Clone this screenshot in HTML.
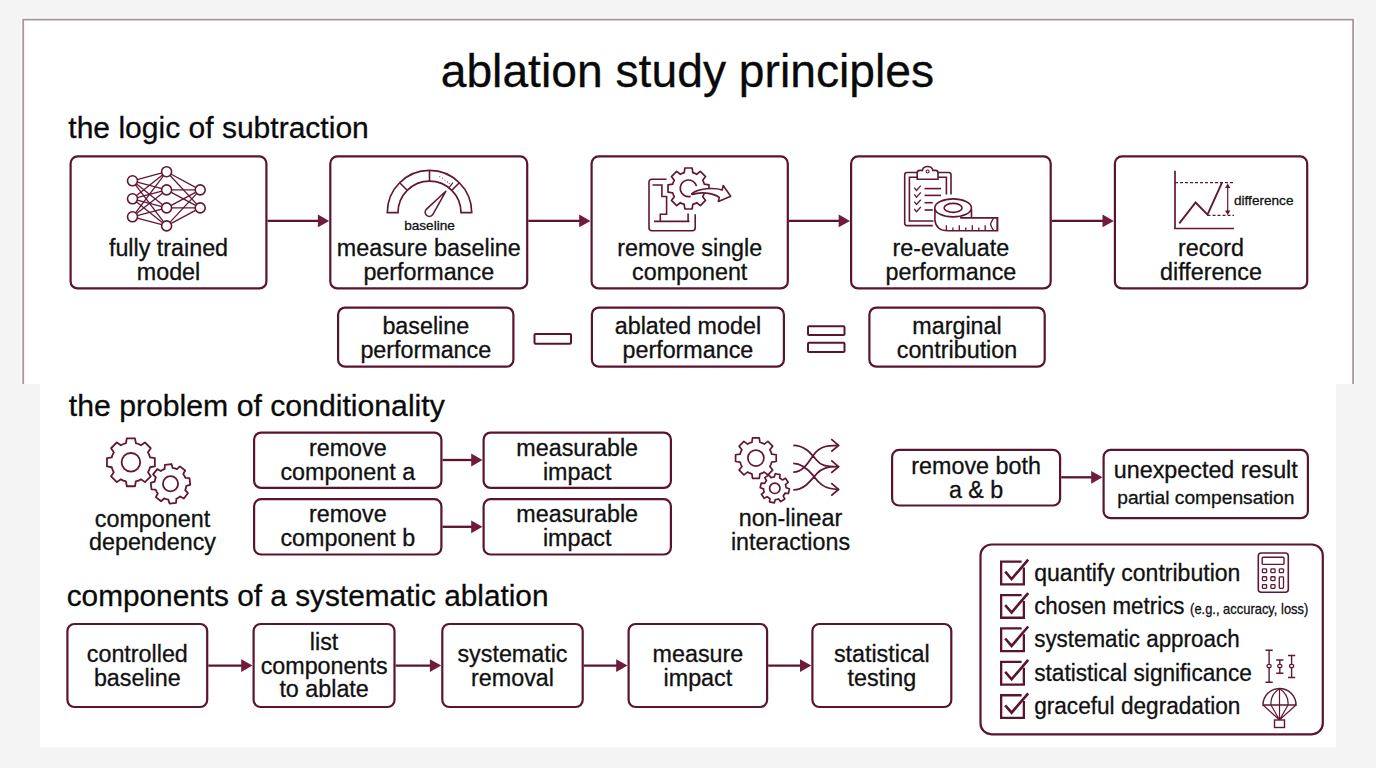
<!DOCTYPE html>
<html><head><meta charset="utf-8"><style>
html,body{margin:0;padding:0;width:1376px;height:768px;overflow:hidden;background:#f4f4f4}
svg{display:block}
text{font-family:"Liberation Sans",sans-serif;stroke:#111;stroke-width:0.3px}
</style></head><body>
<svg width="1376" height="768" viewBox="0 0 1376 768">
<rect x="0" y="0" width="1376" height="768" fill="#f4f4f4"/>
<path d="M21.4,384 L21.4,17.9 L1354.9,17.9 L1354.9,384" fill="none" stroke="#fbfbfb" stroke-width="1.2"/>
<path d="M23.2,384 L23.2,19.7 L1353.1,19.7 L1353.1,384" fill="#fff" stroke="#a8999f" stroke-width="1.8"/>
<rect x="40" y="384" width="1296" height="363" fill="#fff"/>
<text x="440.7" y="87.0" font-size="46" text-anchor="start" fill="#0a0a0a" textLength="493.5" lengthAdjust="spacingAndGlyphs">ablation study principles</text>
<text x="68.3" y="138.0" font-size="30" text-anchor="start" fill="#0a0a0a" textLength="300.5" lengthAdjust="spacingAndGlyphs">the logic of subtraction</text>
<text x="68.8" y="416.0" font-size="30" text-anchor="start" fill="#0a0a0a" textLength="376" lengthAdjust="spacingAndGlyphs">the problem of conditionality</text>
<text x="66.7" y="606.1" font-size="30" text-anchor="start" fill="#0a0a0a" textLength="481.8" lengthAdjust="spacingAndGlyphs">components of a systematic ablation</text>
<rect x="70.6" y="156.4" width="195.8" height="132.0" rx="7" fill="#fff" stroke="#5a1431" stroke-width="2.2"/>
<text x="168.5" y="256.0" font-size="23.3" text-anchor="middle" fill="#111">fully trained</text>
<text x="168.5" y="280.0" font-size="23.3" text-anchor="middle" fill="#111">model</text>
<rect x="330.3" y="156.4" width="196.9" height="132.0" rx="7" fill="#fff" stroke="#5a1431" stroke-width="2.2"/>
<text x="428.8" y="256.0" font-size="23.3" text-anchor="middle" fill="#111">measure baseline</text>
<text x="428.8" y="280.0" font-size="23.3" text-anchor="middle" fill="#111">performance</text>
<rect x="591.6" y="156.4" width="196.2" height="132.0" rx="7" fill="#fff" stroke="#5a1431" stroke-width="2.2"/>
<text x="689.7" y="256.0" font-size="23.3" text-anchor="middle" fill="#111">remove single</text>
<text x="689.7" y="280.0" font-size="23.3" text-anchor="middle" fill="#111">component</text>
<rect x="851.1" y="156.4" width="199.6" height="132.0" rx="7" fill="#fff" stroke="#5a1431" stroke-width="2.2"/>
<text x="950.9" y="256.0" font-size="23.3" text-anchor="middle" fill="#111">re-evaluate</text>
<text x="950.9" y="280.0" font-size="23.3" text-anchor="middle" fill="#111">performance</text>
<rect x="1114.9" y="156.4" width="192.3" height="132.0" rx="7" fill="#fff" stroke="#5a1431" stroke-width="2.2"/>
<text x="1211.0" y="256.0" font-size="23.3" text-anchor="middle" fill="#111">record</text>
<text x="1211.0" y="280.0" font-size="23.3" text-anchor="middle" fill="#111">difference</text>
<line x1="267.5" y1="220.9" x2="318.9" y2="220.9" stroke="#5a1431" stroke-width="2.3"/>
<path d="M317.9,214.5 L329.2,220.9 L317.9,227.3 Z" fill="#701a3e"/>
<line x1="528.3" y1="220.9" x2="580.2" y2="220.9" stroke="#5a1431" stroke-width="2.3"/>
<path d="M579.2,214.5 L590.5,220.9 L579.2,227.3 Z" fill="#701a3e"/>
<line x1="788.9" y1="220.9" x2="839.7" y2="220.9" stroke="#5a1431" stroke-width="2.3"/>
<path d="M838.7,214.5 L850,220.9 L838.7,227.3 Z" fill="#701a3e"/>
<line x1="1051.8" y1="220.9" x2="1103.5" y2="220.9" stroke="#5a1431" stroke-width="2.3"/>
<path d="M1102.5,214.5 L1113.8,220.9 L1102.5,227.3 Z" fill="#701a3e"/>
<line x1="132.5" y1="180.8" x2="166.6" y2="171.7" stroke="#621636" stroke-width="1.3"/>
<line x1="132.5" y1="180.8" x2="166.6" y2="189.9" stroke="#621636" stroke-width="1.3"/>
<line x1="132.5" y1="180.8" x2="166.6" y2="207.9" stroke="#621636" stroke-width="1.3"/>
<line x1="132.5" y1="180.8" x2="166.6" y2="225.9" stroke="#621636" stroke-width="1.3"/>
<line x1="132.5" y1="198.8" x2="166.6" y2="171.7" stroke="#621636" stroke-width="1.3"/>
<line x1="132.5" y1="198.8" x2="166.6" y2="189.9" stroke="#621636" stroke-width="1.3"/>
<line x1="132.5" y1="198.8" x2="166.6" y2="207.9" stroke="#621636" stroke-width="1.3"/>
<line x1="132.5" y1="198.8" x2="166.6" y2="225.9" stroke="#621636" stroke-width="1.3"/>
<line x1="132.5" y1="216.8" x2="166.6" y2="171.7" stroke="#621636" stroke-width="1.3"/>
<line x1="132.5" y1="216.8" x2="166.6" y2="189.9" stroke="#621636" stroke-width="1.3"/>
<line x1="132.5" y1="216.8" x2="166.6" y2="207.9" stroke="#621636" stroke-width="1.3"/>
<line x1="132.5" y1="216.8" x2="166.6" y2="225.9" stroke="#621636" stroke-width="1.3"/>
<line x1="166.6" y1="171.7" x2="200.2" y2="189.9" stroke="#621636" stroke-width="1.3"/>
<line x1="166.6" y1="171.7" x2="200.2" y2="207.9" stroke="#621636" stroke-width="1.3"/>
<line x1="166.6" y1="189.9" x2="200.2" y2="189.9" stroke="#621636" stroke-width="1.3"/>
<line x1="166.6" y1="189.9" x2="200.2" y2="207.9" stroke="#621636" stroke-width="1.3"/>
<line x1="166.6" y1="207.9" x2="200.2" y2="189.9" stroke="#621636" stroke-width="1.3"/>
<line x1="166.6" y1="207.9" x2="200.2" y2="207.9" stroke="#621636" stroke-width="1.3"/>
<line x1="166.6" y1="225.9" x2="200.2" y2="189.9" stroke="#621636" stroke-width="1.3"/>
<line x1="166.6" y1="225.9" x2="200.2" y2="207.9" stroke="#621636" stroke-width="1.3"/>
<circle cx="132.5" cy="180.8" r="5" fill="#fff" stroke="#621636" stroke-width="1.6"/>
<circle cx="132.5" cy="198.8" r="5" fill="#fff" stroke="#621636" stroke-width="1.6"/>
<circle cx="132.5" cy="216.8" r="5" fill="#fff" stroke="#621636" stroke-width="1.6"/>
<circle cx="166.6" cy="171.7" r="5" fill="#fff" stroke="#621636" stroke-width="1.6"/>
<circle cx="166.6" cy="189.9" r="5" fill="#fff" stroke="#621636" stroke-width="1.6"/>
<circle cx="166.6" cy="207.9" r="5" fill="#fff" stroke="#621636" stroke-width="1.6"/>
<circle cx="166.6" cy="225.9" r="5" fill="#fff" stroke="#621636" stroke-width="1.6"/>
<circle cx="200.2" cy="189.9" r="5" fill="#fff" stroke="#621636" stroke-width="1.6"/>
<circle cx="200.2" cy="207.9" r="5" fill="#fff" stroke="#621636" stroke-width="1.6"/>
<path d="M387.3,212.6 A42.2,42.2 0 0 1 471.7,212.6 L461.0,212.6 A31.5,31.5 0 0 0 398.0,212.6 Z" fill="#fff" stroke="#621636" stroke-width="1.7"/>
<line x1="451.8" y1="190.3" x2="459.3" y2="182.8" stroke="#621636" stroke-width="1.6"/>
<line x1="429.5" y1="181.1" x2="429.5" y2="170.4" stroke="#621636" stroke-width="1.6"/>
<line x1="407.2" y1="190.3" x2="399.7" y2="182.8" stroke="#621636" stroke-width="1.6"/>
<line x1="448.9" y1="187.8" x2="452.9" y2="182.7" stroke="#621636" stroke-width="1.2"/>
<circle cx="439.8" cy="176.6" r="0.55" fill="#621636"/>
<circle cx="442.4" cy="178.1" r="0.55" fill="#621636"/>
<circle cx="445.0" cy="180.0" r="0.55" fill="#621636"/>
<circle cx="447.6" cy="181.9" r="0.55" fill="#621636"/>
<circle cx="449.3" cy="183.3" r="0.55" fill="#621636"/>
<path d="M426.00,209.60 L445.8,191.3 L432.60,214.80 A4.2,4.2 0 1 1 426.00,209.60 Z" fill="#fff" stroke="#621636" stroke-width="1.5" stroke-linejoin="round"/>
<text x="429.5" y="229.8" font-size="13.6" text-anchor="middle" fill="#111">baseline</text>
<path d="M666.6,179.3 L652,179.3 Q649,179.3 649,182.3 L649,227.8 Q649,230.8 652,230.8 L692.2,230.8 Q695.2,230.8 695.2,227.8 L695.2,214.2" fill="none" stroke="#621636" stroke-width="1.6"/>
<path d="M652.5,185 L661.9,185 L661.9,196.5 L666.6,196.5 L666.6,214.2 L660.3,214.2 L660.3,221.4 M654,221.4 L689.5,221.4 M688.1,213.6 L688.1,221.4" fill="none" stroke="#621636" stroke-width="1.6"/>
<path d="M682.22,173.35 L684.20,172.67 L684.84,168.02 L692.16,168.02 L692.80,172.67 L694.78,173.35 L696.65,174.27 L700.39,171.44 L705.56,176.61 L702.73,180.35 L703.65,182.22 L704.33,184.20 L708.98,184.84 L708.98,192.16 L704.33,192.80 L703.65,194.78 L702.73,196.65 L705.56,200.39 L700.39,205.56 L696.65,202.73 L694.78,203.65 L692.80,204.33 L692.16,208.98 L684.84,208.98 L684.20,204.33 L682.22,203.65 L680.35,202.73 L676.61,205.56 L671.44,200.39 L674.27,196.65 L673.35,194.78 L672.67,192.80 L668.02,192.16 L668.02,184.84 L672.67,184.20 L673.35,182.22 L674.27,180.35 L671.44,176.61 L676.61,171.44 L680.35,174.27 Z" fill="#fff" stroke="#621636" stroke-width="1.7" stroke-linejoin="round"/>
<path d="M690.65,196.32 A8.3,8.3 0 1 1 696.52,186.15" fill="none" stroke="#621636" stroke-width="1.7"/>
<path d="M691.62,193.90 C698.46,188.04 714.08,187.39 722.22,189.99 L723.20,185.44 L730.68,196.18 L718.32,201.39 L719.29,197.48 C712.78,192.60 699.76,191.62 692.60,194.55 Z" fill="#fff" stroke="#621636" stroke-width="1.6" stroke-linejoin="round"/>
<path d="M932.8,225.6 L907,225.6 Q904.7,225.6 904.7,223.3 L904.7,174.8 Q904.7,172.5 907,172.5 L917.2,172.5 M938,172.5 L948.7,172.5 Q951,172.5 951,174.8 L951,194.4" fill="none" stroke="#621636" stroke-width="1.6"/>
<path d="M933.5,221 L909.4,221 L909.4,177.2 L917.2,177.2 M938,177.2 L946.4,177.2 L946.4,194.4" fill="none" stroke="#621636" stroke-width="1.6"/>
<path d="M917.2,179.3 L917.2,173 Q917.2,170.4 920,170.4 L922.4,170.4 Q923,166.5 927.6,166.5 Q932.2,166.5 932.8,170.4 L935.5,170.4 Q938,170.4 938,173 L938,179.3 Z" fill="#fff" stroke="#621636" stroke-width="1.6"/>
<circle cx="927.6" cy="171.5" r="1.5" fill="none" stroke="#621636" stroke-width="1.1"/>
<path d="M914.3,187.6 L916.5,190.4 L920.8,185.6" fill="none" stroke="#621636" stroke-width="1.3"/>
<line x1="924.5" y1="188.6" x2="941" y2="188.6" stroke="#621636" stroke-width="1.6"/>
<path d="M914.3,194.4 L916.5,197.20000000000002 L920.8,192.4" fill="none" stroke="#621636" stroke-width="1.3"/>
<line x1="924.5" y1="195.4" x2="941" y2="195.4" stroke="#621636" stroke-width="1.6"/>
<path d="M914.3,201.7 L916.5,204.5 L920.8,199.7" fill="none" stroke="#621636" stroke-width="1.3"/>
<line x1="924.5" y1="202.7" x2="932.8" y2="202.7" stroke="#621636" stroke-width="1.6"/>
<path d="M914.3,209 L916.5,211.8 L920.8,207" fill="none" stroke="#621636" stroke-width="1.3"/>
<line x1="924.5" y1="210" x2="932.8" y2="210" stroke="#621636" stroke-width="1.6"/>
<path d="M934.9,207.9 L934.9,220 Q936,230.8 948,230.8 L997.4,230.8 L997.4,217.7 L960,217.7" fill="#fff" stroke="#621636" stroke-width="1.6"/>
<ellipse cx="953.1" cy="207.9" rx="18.3" ry="9" fill="#fff" stroke="#621636" stroke-width="1.6"/>
<path d="M961,217.7 L997.4,217.7 L997.4,230.8 M971.5,209 L971.5,217.7" fill="none" stroke="#621636" stroke-width="1.6"/>
<ellipse cx="953.1" cy="207.9" rx="9" ry="4.5" fill="none" stroke="#621636" stroke-width="1.6"/>
<path d="M993.6,218.2 Q991,222 990.6,224.2 Q991,227 993.6,230.5" fill="none" stroke="#621636" stroke-width="1.3"/>
<line x1="946.4" y1="225.3" x2="946.4" y2="230.8" stroke="#621636" stroke-width="1.3"/>
<line x1="952.9" y1="227.60000000000002" x2="952.9" y2="230.8" stroke="#621636" stroke-width="1.3"/>
<line x1="959.3" y1="225.3" x2="959.3" y2="230.8" stroke="#621636" stroke-width="1.3"/>
<line x1="965.8" y1="227.60000000000002" x2="965.8" y2="230.8" stroke="#621636" stroke-width="1.3"/>
<line x1="972.3" y1="225.3" x2="972.3" y2="230.8" stroke="#621636" stroke-width="1.3"/>
<line x1="978.8" y1="227.60000000000002" x2="978.8" y2="230.8" stroke="#621636" stroke-width="1.3"/>
<line x1="985.2" y1="225.3" x2="985.2" y2="230.8" stroke="#621636" stroke-width="1.3"/>
<path d="M1175,170.8 L1175,228.5 L1234,228.5" fill="none" stroke="#621636" stroke-width="1.7"/>
<line x1="1175" y1="182.7" x2="1234" y2="182.7" stroke="#621636" stroke-width="1.2" stroke-dasharray="3,2"/>
<line x1="1207.5" y1="215.4" x2="1234" y2="215.4" stroke="#621636" stroke-width="1.2" stroke-dasharray="3,2"/>
<path d="M1179.3,223.3 L1195.6,202.5 L1207.5,214.6 L1222,182.7" fill="none" stroke="#621636" stroke-width="1.9"/>
<line x1="1227.7" y1="185" x2="1227.7" y2="213" stroke="#621636" stroke-width="1.2"/>
<path d="M1225,188 L1227.7,183.5 L1230.4,188 Z M1225,210.5 L1227.7,215 L1230.4,210.5 Z" fill="#621636"/>
<text x="1234.0" y="204.6" font-size="13.6" text-anchor="start" fill="#111">difference</text>
<rect x="338.1" y="307.6" width="175.3" height="59.1" rx="7" fill="#fff" stroke="#5a1431" stroke-width="2.2"/>
<text x="425.8" y="334.0" font-size="23.3" text-anchor="middle" fill="#111">baseline</text>
<text x="425.8" y="358.0" font-size="23.3" text-anchor="middle" fill="#111">performance</text>
<rect x="591.9" y="307.6" width="192.0" height="59.1" rx="7" fill="#fff" stroke="#5a1431" stroke-width="2.2"/>
<text x="687.9" y="334.0" font-size="23.3" text-anchor="middle" fill="#111">ablated model</text>
<text x="687.9" y="358.0" font-size="23.3" text-anchor="middle" fill="#111">performance</text>
<rect x="869.4" y="307.6" width="175.3" height="59.1" rx="7" fill="#fff" stroke="#5a1431" stroke-width="2.2"/>
<text x="957.0" y="334.0" font-size="23.3" text-anchor="middle" fill="#111">marginal</text>
<text x="957.0" y="358.0" font-size="23.3" text-anchor="middle" fill="#111">contribution</text>
<rect x="534.5" y="334" width="36.5" height="9.8" rx="1" fill="none" stroke="#5a1431" stroke-width="2"/>
<rect x="808" y="326.3" width="36.5" height="8.6" rx="1" fill="none" stroke="#5a1431" stroke-width="2"/>
<rect x="808" y="342.8" width="36.5" height="9.2" rx="1" fill="none" stroke="#5a1431" stroke-width="2"/>
<path d="M123.32,444.01 L125.94,443.13 L126.82,438.35 L134.98,438.35 L135.86,443.13 L138.48,444.01 L140.95,445.24 L144.95,442.47 L150.73,448.25 L147.96,452.25 L149.19,454.72 L150.07,457.34 L154.85,458.22 L154.85,466.38 L150.07,467.26 L149.19,469.88 L147.96,472.35 L150.73,476.35 L144.95,482.13 L140.95,479.36 L138.48,480.59 L135.86,481.47 L134.98,486.25 L126.82,486.25 L125.94,481.47 L123.32,480.59 L120.85,479.36 L116.85,482.13 L111.07,476.35 L113.84,472.35 L112.61,469.88 L111.73,467.26 L106.95,466.38 L106.95,458.22 L111.73,457.34 L112.61,454.72 L113.84,452.25 L111.07,448.25 L116.85,442.47 L120.85,445.24 Z" fill="#fff" stroke="#621636" stroke-width="1.8" stroke-linejoin="round"/>
<circle cx="130.9" cy="462.3" r="9.3" fill="none" stroke="#621636" stroke-width="1.8"/>
<path d="M162.65,469.86 L164.67,468.90 L164.86,464.82 L171.47,464.02 L172.63,467.94 L174.81,468.39 L176.91,469.14 L179.93,466.39 L185.17,470.50 L183.22,474.09 L184.44,475.95 L185.40,477.97 L189.48,478.16 L190.28,484.77 L186.36,485.93 L185.91,488.11 L185.16,490.21 L187.91,493.23 L183.80,498.47 L180.21,496.52 L178.35,497.74 L176.33,498.70 L176.14,502.78 L169.53,503.58 L168.37,499.66 L166.19,499.21 L164.09,498.46 L161.07,501.21 L155.83,497.10 L157.78,493.51 L156.56,491.65 L155.60,489.63 L151.52,489.44 L150.72,482.83 L154.64,481.67 L155.09,479.49 L155.84,477.39 L153.09,474.37 L157.20,469.13 L160.79,471.08 Z" fill="#fff" stroke="#621636" stroke-width="1.8" stroke-linejoin="round"/>
<circle cx="170.5" cy="483.8" r="7.6" fill="none" stroke="#621636" stroke-width="1.8"/>
<text x="152.5" y="527.0" font-size="23.3" text-anchor="middle" fill="#111">component</text>
<text x="152.5" y="550.0" font-size="23.3" text-anchor="middle" fill="#111">dependency</text>
<rect x="254.1" y="432.6" width="187.3" height="55.3" rx="7" fill="#fff" stroke="#5a1431" stroke-width="2.2"/>
<text x="347.8" y="455.7" font-size="23.3" text-anchor="middle" fill="#111">remove</text>
<text x="347.8" y="479.7" font-size="23.3" text-anchor="middle" fill="#111">component a</text>
<rect x="254.1" y="499.2" width="187.3" height="55.3" rx="7" fill="#fff" stroke="#5a1431" stroke-width="2.2"/>
<text x="347.8" y="522.3" font-size="23.3" text-anchor="middle" fill="#111">remove</text>
<text x="347.8" y="546.3" font-size="23.3" text-anchor="middle" fill="#111">component b</text>
<rect x="483.6" y="432.6" width="187.3" height="55.3" rx="7" fill="#fff" stroke="#5a1431" stroke-width="2.2"/>
<text x="577.2" y="455.7" font-size="23.3" text-anchor="middle" fill="#111">measurable</text>
<text x="577.2" y="479.7" font-size="23.3" text-anchor="middle" fill="#111">impact</text>
<rect x="483.6" y="499.2" width="187.3" height="55.3" rx="7" fill="#fff" stroke="#5a1431" stroke-width="2.2"/>
<text x="577.2" y="522.3" font-size="23.3" text-anchor="middle" fill="#111">measurable</text>
<text x="577.2" y="546.3" font-size="23.3" text-anchor="middle" fill="#111">impact</text>
<line x1="442.5" y1="460" x2="472.2" y2="460" stroke="#5a1431" stroke-width="2.3"/>
<path d="M471.2,453.6 L482.5,460 L471.2,466.4 Z" fill="#701a3e"/>
<line x1="442.5" y1="526.8" x2="472.2" y2="526.8" stroke="#5a1431" stroke-width="2.3"/>
<path d="M471.2,520.4 L482.5,526.8 L471.2,533.1999999999999 Z" fill="#701a3e"/>
<path d="M749.66,443.04 L751.91,442.30 L752.52,437.78 L759.28,437.78 L759.89,442.30 L762.14,443.04 L764.25,444.10 L767.88,441.34 L772.66,446.12 L769.90,449.75 L770.96,451.86 L771.70,454.11 L776.22,454.72 L776.22,461.48 L771.70,462.09 L770.96,464.34 L769.90,466.45 L772.66,470.08 L767.88,474.86 L764.25,472.10 L762.14,473.16 L759.89,473.90 L759.28,478.42 L752.52,478.42 L751.91,473.90 L749.66,473.16 L747.55,472.10 L743.92,474.86 L739.14,470.08 L741.90,466.45 L740.84,464.34 L740.10,462.09 L735.58,461.48 L735.58,454.72 L740.10,454.11 L740.84,451.86 L741.90,449.75 L739.14,446.12 L743.92,441.34 L747.55,444.10 Z" fill="#fff" stroke="#621636" stroke-width="1.7" stroke-linejoin="round"/>
<circle cx="755.9" cy="458.1" r="8" fill="none" stroke="#621636" stroke-width="1.7"/>
<path d="M772.64,477.21 L774.26,477.01 L775.31,473.71 L780.01,474.66 L779.69,478.11 L781.11,478.93 L782.40,479.94 L785.48,478.34 L788.13,482.34 L785.46,484.55 L785.89,486.14 L786.09,487.76 L789.39,488.81 L788.44,493.51 L784.99,493.19 L784.17,494.61 L783.16,495.90 L784.76,498.98 L780.76,501.63 L778.55,498.96 L776.96,499.39 L775.34,499.59 L774.29,502.89 L769.59,501.94 L769.91,498.49 L768.49,497.67 L767.20,496.66 L764.12,498.26 L761.47,494.26 L764.14,492.05 L763.71,490.46 L763.51,488.84 L760.21,487.79 L761.16,483.09 L764.61,483.41 L765.43,481.99 L766.44,480.70 L764.84,477.62 L768.84,474.97 L771.05,477.64 Z" fill="#fff" stroke="#621636" stroke-width="1.7" stroke-linejoin="round"/>
<circle cx="774.8" cy="488.3" r="5.2" fill="none" stroke="#621636" stroke-width="1.7"/>
<path d="M793.23,445.42 C805.21,445.42 811.46,453.96 816.67,460.21 C820.83,465.42 825.00,466.67 838.54,466.67 M793.23,463.33 C802.08,463.33 808.33,469.58 813.54,475.83 C816.67,480.00 821.88,489.38 838.54,489.38 M793.23,472.19 C802.08,472.19 807.29,464.38 813.54,455.00 C818.75,447.71 823.96,445.42 838.54,445.42 M793.23,489.90 C804.17,489.90 810.42,481.04 816.67,473.75 C821.88,468.02 827.08,466.67 838.54,466.67" fill="none" stroke="#621636" stroke-width="1.8"/>
<path d="M831.25,439.17 L838.54,445.42 L831.25,451.67" fill="none" stroke="#621636" stroke-width="1.8"/>
<path d="M831.25,460.42 L838.54,466.67 L831.25,472.92" fill="none" stroke="#621636" stroke-width="1.8"/>
<path d="M831.25,483.12 L838.54,489.38 L831.25,495.62" fill="none" stroke="#621636" stroke-width="1.8"/>
<text x="790.5" y="526.0" font-size="23.3" text-anchor="middle" fill="#111">non-linear</text>
<text x="790.5" y="550.0" font-size="23.3" text-anchor="middle" fill="#111">interactions</text>
<rect x="892.1" y="449.9" width="168.0" height="55.6" rx="7" fill="#fff" stroke="#5a1431" stroke-width="2.2"/>
<text x="976.1" y="474.2" font-size="23.3" text-anchor="middle" fill="#111">remove both</text>
<text x="976.1" y="498.0" font-size="23.3" text-anchor="middle" fill="#111">a &amp; b</text>
<rect x="1103.6" y="449.9" width="204.3" height="68.3" rx="7" fill="#fff" stroke="#5a1431" stroke-width="2.2"/>
<text x="1205.8" y="477.6" font-size="23.3" text-anchor="middle" fill="#111">unexpected result</text>
<text x="1205.8" y="504.4" font-size="19.2" text-anchor="middle" fill="#111">partial compensation</text>
<line x1="1061.2" y1="477.3" x2="1092.2" y2="477.3" stroke="#5a1431" stroke-width="2.3"/>
<path d="M1091.2,470.90000000000003 L1102.5,477.3 L1091.2,483.7 Z" fill="#701a3e"/>
<rect x="67.4" y="624.0" width="139.8" height="83.0" rx="7" fill="#fff" stroke="#5a1431" stroke-width="2.2"/>
<text x="137.3" y="662.0" font-size="23.3" text-anchor="middle" fill="#111">controlled</text>
<text x="137.3" y="686.0" font-size="23.3" text-anchor="middle" fill="#111">baseline</text>
<rect x="253.6" y="624.0" width="140.9" height="83.0" rx="7" fill="#fff" stroke="#5a1431" stroke-width="2.2"/>
<text x="324.1" y="650.0" font-size="23.3" text-anchor="middle" fill="#111">list</text>
<text x="324.1" y="674.0" font-size="23.3" text-anchor="middle" fill="#111">components</text>
<text x="324.1" y="697.0" font-size="23.3" text-anchor="middle" fill="#111">to ablate</text>
<rect x="442.3" y="624.0" width="140.4" height="83.0" rx="7" fill="#fff" stroke="#5a1431" stroke-width="2.2"/>
<text x="512.5" y="662.0" font-size="23.3" text-anchor="middle" fill="#111">systematic</text>
<text x="512.5" y="686.0" font-size="23.3" text-anchor="middle" fill="#111">removal</text>
<rect x="628.6" y="624.0" width="138.5" height="83.0" rx="7" fill="#fff" stroke="#5a1431" stroke-width="2.2"/>
<text x="697.9" y="662.0" font-size="23.3" text-anchor="middle" fill="#111">measure</text>
<text x="697.9" y="686.0" font-size="23.3" text-anchor="middle" fill="#111">impact</text>
<rect x="812.4" y="624.0" width="138.9" height="83.0" rx="7" fill="#fff" stroke="#5a1431" stroke-width="2.2"/>
<text x="881.8" y="662.0" font-size="23.3" text-anchor="middle" fill="#111">statistical</text>
<text x="881.8" y="686.0" font-size="23.3" text-anchor="middle" fill="#111">testing</text>
<line x1="208.3" y1="665.6" x2="242.2" y2="665.6" stroke="#5a1431" stroke-width="2.3"/>
<path d="M241.2,659.2 L252.5,665.6 L241.2,672.0 Z" fill="#701a3e"/>
<line x1="395.6" y1="665.6" x2="430.9" y2="665.6" stroke="#5a1431" stroke-width="2.3"/>
<path d="M429.9,659.2 L441.2,665.6 L429.9,672.0 Z" fill="#701a3e"/>
<line x1="583.8" y1="665.6" x2="617.2" y2="665.6" stroke="#5a1431" stroke-width="2.3"/>
<path d="M616.2,659.2 L627.5,665.6 L616.2,672.0 Z" fill="#701a3e"/>
<line x1="768.2" y1="665.6" x2="801.0" y2="665.6" stroke="#5a1431" stroke-width="2.3"/>
<path d="M800.0,659.2 L811.3,665.6 L800.0,672.0 Z" fill="#701a3e"/>
<rect x="980.5" y="544.5" width="342.3" height="189.8" rx="11" fill="#fff" stroke="#5a1431" stroke-width="2.2"/>
<path d="M1021.6,561.65 L1001.15,561.65 L1001.15,584.35 L1023.85,584.35 L1023.85,567.50" fill="none" stroke="#5a1431" stroke-width="2.3"/>
<path d="M1005.2,571.70 L1011.6,579.10 L1028.2,559.70" fill="none" stroke="#5a1431" stroke-width="2.6"/>
<text x="1034.2" y="580.9" font-size="23" fill="#111" textLength="206.2" lengthAdjust="spacingAndGlyphs">quantify contribution</text>
<path d="M1021.6,595.05 L1001.15,595.05 L1001.15,617.75 L1023.85,617.75 L1023.85,600.90" fill="none" stroke="#5a1431" stroke-width="2.3"/>
<path d="M1005.2,605.10 L1011.6,612.50 L1028.2,593.10" fill="none" stroke="#5a1431" stroke-width="2.6"/>
<text x="1034.2" y="614.0" font-size="23" fill="#111" textLength="150.3" lengthAdjust="spacingAndGlyphs">chosen metrics</text>
<path d="M1021.6,628.45 L1001.15,628.45 L1001.15,651.15 L1023.85,651.15 L1023.85,634.30" fill="none" stroke="#5a1431" stroke-width="2.3"/>
<path d="M1005.2,638.50 L1011.6,645.90 L1028.2,626.50" fill="none" stroke="#5a1431" stroke-width="2.6"/>
<text x="1034.2" y="647.3" font-size="23" fill="#111" textLength="205.4" lengthAdjust="spacingAndGlyphs">systematic approach</text>
<path d="M1021.6,661.85 L1001.15,661.85 L1001.15,684.55 L1023.85,684.55 L1023.85,667.70" fill="none" stroke="#5a1431" stroke-width="2.3"/>
<path d="M1005.2,671.90 L1011.6,679.30 L1028.2,659.90" fill="none" stroke="#5a1431" stroke-width="2.6"/>
<text x="1034.2" y="680.6" font-size="23" fill="#111" textLength="217.6" lengthAdjust="spacingAndGlyphs">statistical significance</text>
<path d="M1021.6,695.25 L1001.15,695.25 L1001.15,717.95 L1023.85,717.95 L1023.85,701.10" fill="none" stroke="#5a1431" stroke-width="2.3"/>
<path d="M1005.2,705.30 L1011.6,712.70 L1028.2,693.30" fill="none" stroke="#5a1431" stroke-width="2.6"/>
<text x="1034.2" y="713.7" font-size="23" fill="#111" textLength="206.2" lengthAdjust="spacingAndGlyphs">graceful degradation</text>
<text x="1190.1" y="614.4" font-size="14.4" fill="#111" textLength="118.2" lengthAdjust="spacingAndGlyphs">(e.g., accuracy, loss)</text>
<rect x="1258.3" y="553" width="30" height="39.3" rx="3" fill="none" stroke="#621636" stroke-width="1.6"/>
<rect x="1262.2" y="557.2" width="21.8" height="7.2" rx="1" fill="none" stroke="#621636" stroke-width="1.4"/>
<rect x="1262.40" y="568.90" width="4.2" height="3.8" rx="0.8" fill="none" stroke="#621636" stroke-width="1.3"/>
<rect x="1270.85" y="568.90" width="4.2" height="3.8" rx="0.8" fill="none" stroke="#621636" stroke-width="1.3"/>
<rect x="1279.30" y="568.90" width="4.2" height="3.8" rx="0.8" fill="none" stroke="#621636" stroke-width="1.3"/>
<rect x="1262.40" y="576.75" width="4.2" height="3.8" rx="0.8" fill="none" stroke="#621636" stroke-width="1.3"/>
<rect x="1270.85" y="576.75" width="4.2" height="3.8" rx="0.8" fill="none" stroke="#621636" stroke-width="1.3"/>
<rect x="1262.40" y="584.60" width="4.2" height="3.8" rx="0.8" fill="none" stroke="#621636" stroke-width="1.3"/>
<rect x="1270.85" y="584.60" width="4.2" height="3.8" rx="0.8" fill="none" stroke="#621636" stroke-width="1.3"/>
<rect x="1279.3" y="576.8" width="4.2" height="11.6" rx="0.8" fill="none" stroke="#621636" stroke-width="1.3"/>
<path d="M1265.5,650.3 L1272.6999999999998,650.3 M1269.1,650.3 L1269.1,682.2 M1265.5,682.2 L1272.6999999999998,682.2" fill="none" stroke="#621636" stroke-width="1.4"/>
<ellipse cx="1269.1" cy="666" rx="2.1" ry="1.7" fill="#fff" stroke="#621636" stroke-width="1.2"/>
<path d="M1276.2,660 L1283.3999999999999,660 M1279.8,660 L1279.8,673.2 M1276.2,673.2 L1283.3999999999999,673.2" fill="none" stroke="#621636" stroke-width="1.4"/>
<ellipse cx="1279.8" cy="666" rx="2.1" ry="1.7" fill="#fff" stroke="#621636" stroke-width="1.2"/>
<path d="M1288.0,655.5 L1295.1999999999998,655.5 M1291.6,655.5 L1291.6,677.5 M1288.0,677.5 L1295.1999999999998,677.5" fill="none" stroke="#621636" stroke-width="1.4"/>
<ellipse cx="1291.6" cy="666" rx="2.1" ry="1.7" fill="#fff" stroke="#621636" stroke-width="1.2"/>
<path d="M1263,705 A16.5,16.5 0 0 1 1296,705 Z" fill="#fff" stroke="#621636" stroke-width="1.5"/>
<path d="M1263,705 L1279.5,720 L1296,705 M1279.5,688.5 L1279.5,720 M1271,705 L1279.5,720 L1288,705" fill="none" stroke="#621636" stroke-width="1.2"/>
<path d="M1279.5,688.5 Q1270,695 1271,705 M1279.5,688.5 Q1289,695 1288,705" fill="none" stroke="#621636" stroke-width="1.2"/>
<rect x="1274.5" y="720" width="10" height="7.5" fill="#fff" stroke="#621636" stroke-width="1.4"/>
</svg>
</body></html>
